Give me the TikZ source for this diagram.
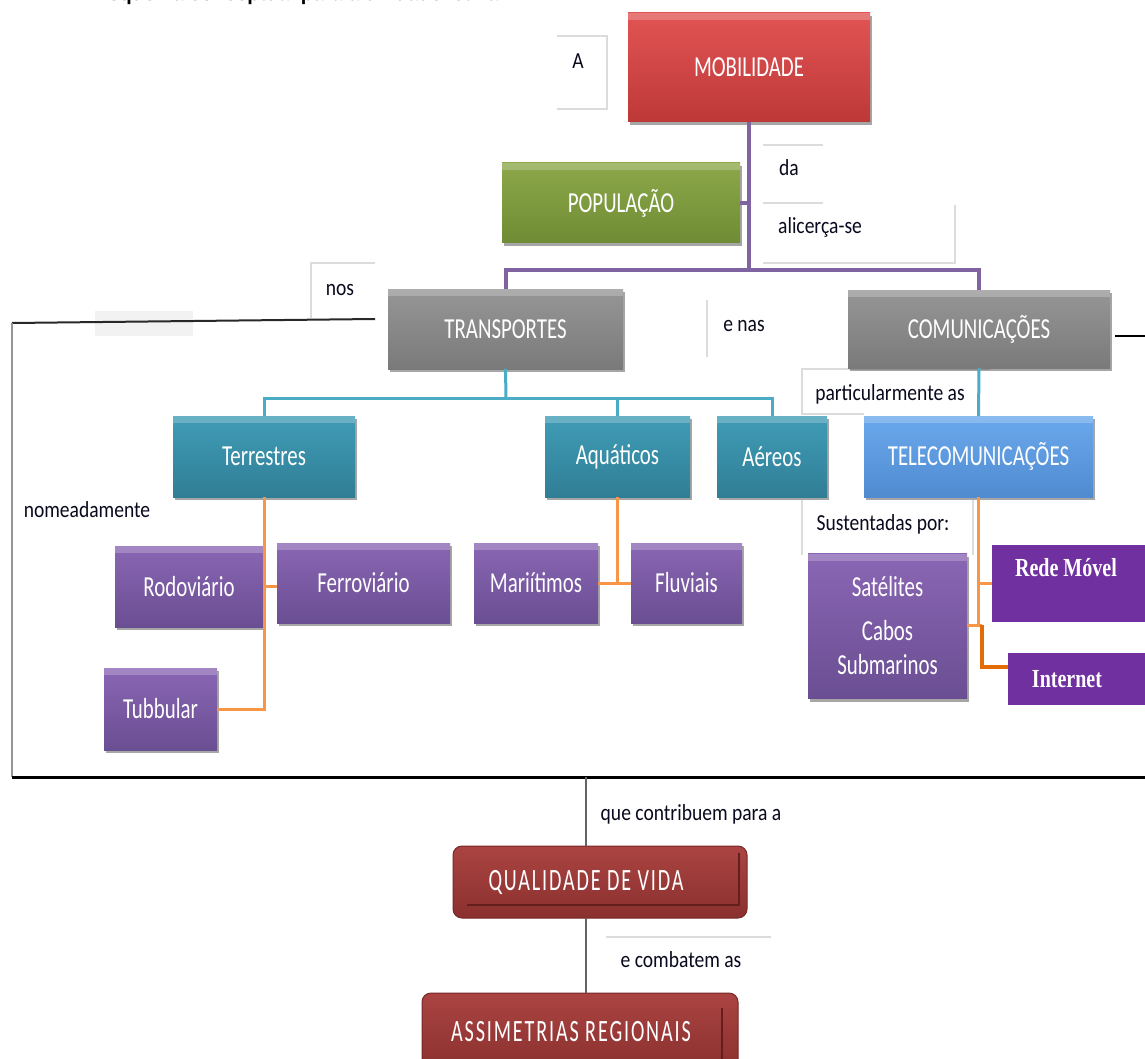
\documentclass[tikz,border=0pt]{standalone}
\usepackage{fontspec}
\setmainfont{Carlito}
\newfontfamily\boxff[FakeStretch=0.72]{Carlito}
\newfontfamily\labff[FakeStretch=0.85]{Carlito}
\newfontfamily\spacedff[FakeStretch=0.65,LetterSpace=6]{Carlito}
\newfontfamily\serbff[FakeStretch=0.77]{Liberation Serif}
\newfontfamily\titff{Liberation Sans}
\newcommand\boxf{\boxff\fontsize{29}{32}\selectfont}
\newcommand\labf{\labff\fontsize{23}{26}\selectfont}
\newcommand\spacedf{\spacedff\fontsize{31}{34}\selectfont}
\newcommand\serbf{\serbff\bfseries\fontsize{26}{30}\selectfont}
\usetikzlibrary{shadows}
\definecolor{cPurpleLine}{HTML}{8064A2}
\definecolor{cTealLine}{HTML}{4BACC6}
\definecolor{cOrangeLine}{HTML}{F79646}
\definecolor{cDarkOrange}{HTML}{E36C09}
\definecolor{cLabLine}{HTML}{DCDCDC}
\definecolor{cRedT}{RGB}{226,84,84}
\definecolor{cRedB}{RGB}{190,56,56}
\definecolor{cGreenT}{RGB}{140,168,74}
\definecolor{cGreenB}{RGB}{112,140,52}
\definecolor{cGrayT}{RGB}{150,150,150}
\definecolor{cGrayB}{RGB}{122,122,122}
\definecolor{cTealT}{RGB}{64,156,182}
\definecolor{cTealB}{RGB}{48,126,150}
\definecolor{cBlueT}{RGB}{106,168,236}
\definecolor{cBlueB}{RGB}{80,139,208}
\definecolor{cPurT}{RGB}{138,102,180}
\definecolor{cPurB}{RGB}{106,78,146}
\definecolor{cDPur}{RGB}{112,48,160}
\definecolor{cDRedT}{RGB}{170,68,66}
\definecolor{cDRedB}{RGB}{138,48,46}
\definecolor{cDRedLine}{RGB}{120,40,40}
\definecolor{cDRedDark}{RGB}{100,30,30}
\definecolor{cLabText}{RGB}{10,10,30}
\definecolor{cFrame}{RGB}{40,40,40}
\definecolor{cFrameGray}{RGB}{150,150,150}
\definecolor{cGl}{RGB}{100,100,100}
\definecolor{cPale}{RGB}{242,242,242}
\begin{document}
\begin{tikzpicture}[x=1pt,y=-1pt,
  bx/.style={rectangle, inner sep=0pt, outer sep=0pt, text=white, font=\boxf, align=center,
    drop shadow={shadow xshift=2pt, shadow yshift=-3pt, fill=black, opacity=0.35},
    path picture={\fill[white,opacity=0.22] (path picture bounding box.north west) rectangle ([yshift=-7pt]path picture bounding box.north east);}},
  redbox/.style={bx, top color=cRedT, bottom color=cRedB},
  greenbox/.style={bx, top color=cGreenT, bottom color=cGreenB},
  graybox/.style={bx, top color=cGrayT, bottom color=cGrayB},
  tealbox/.style={bx, top color=cTealT, bottom color=cTealB},
  bluebox/.style={bx, top color=cBlueT, bottom color=cBlueB},
  purplebox/.style={bx, top color=cPurT, bottom color=cPurB},
  dpurplebox/.style={rectangle, inner sep=0pt, outer sep=0pt, text=white, font=\serbf, fill=cDPur},
  dredbox/.style={rectangle, rounded corners=9pt, inner sep=0pt, outer sep=0pt, text=white, font=\spacedf,
    top color=cDRedT, bottom color=cDRedB, draw=cDRedLine, line width=1pt},
  lab/.style={anchor=base, inner sep=0pt, text=cLabText, font=\labf},
  labline/.style={draw=cLabLine, line width=2pt},
  pl/.style={draw=cPurpleLine, line width=4pt},
  tl/.style={draw=cTealLine, line width=3pt},
  ol/.style={draw=cOrangeLine, line width=3pt},
  dol/.style={draw=cDarkOrange, line width=4pt},
  frame/.style={draw=cFrame, line width=2pt},
  gl/.style={draw=cGl, line width=1.5pt}
]
\useasboundingbox[fill=white] (0,0) rectangle (1145,1059);

% title, cut off at the top edge as in the reference
\node[anchor=base west, inner sep=0pt, font=\titff\bfseries\fontsize{20}{24}\selectfont] (title) at (95,1) {Esquema conceptual para a unidade letiva};

% label boxes (border fragments)
\draw[labline] (557,36) -- (607,36) -- (607,109) -- (557,109);
\draw[labline] (763,145) -- (823,145);
\draw[labline] (763,203) -- (823,203);
\draw[labline] (955,205) -- (955,263) -- (763,263);
\draw[labline] (375,263) -- (311,263) -- (311,318);
\draw[labline] (707,300) -- (707,357);
\draw[labline] (990,369) -- (802,369) -- (802,414) -- (864,414);
\draw[labline] (802,500) -- (802,555);
\draw[labline] (973,500) -- (973,555);
\draw[labline] (606,937) -- (771,937);
\fill[cPale] (95,311) rectangle (193,336);

% nodes
\node[redbox, minimum width=242pt, minimum height=109pt] (mob) at (749,67.5) {MOBILIDADE};
\node[greenbox, minimum width=238pt, minimum height=80pt] (pop) at (621,203) {POPULAÇÃO};
\node[graybox, minimum width=235pt, minimum height=80pt] (trans) at (505.5,329) {TRANSPORTES};
\node[graybox, minimum width=262pt, minimum height=78pt] (com) at (979,329) {COMUNICAÇÕES};
\node[tealbox, minimum width=182pt, minimum height=81pt] (terr) at (264,456.5) {Terrestres};
\node[tealbox, minimum width=145pt, minimum height=81pt] (aqua) at (617.5,456.5) {Aquáticos};
\node[tealbox, minimum width=110pt, minimum height=81pt] (aer) at (772,456.5) {Aéreos};
\node[bluebox, minimum width=229pt, minimum height=81pt] (tele) at (978.5,456.5) {TELECOMUNICAÇÕES};
\node[purplebox, minimum width=148pt, minimum height=81pt] (rod) at (189,586.5) {Rodoviário};
\node[purplebox, minimum width=173pt, minimum height=80pt] (fer) at (363.5,583) {Ferroviário};
\node[purplebox, minimum width=113pt, minimum height=82pt] (tub) at (160.5,709) {Tubbular};
\node[purplebox, minimum width=124pt, minimum height=80pt] (mar) at (536,583) {Mariítimos};
\node[purplebox, minimum width=111pt, minimum height=80pt] (flu) at (686.5,583) {Fluviais};
\node[purplebox, minimum width=159pt, minimum height=145pt] (sat) at (887.5,626) {Satélites\\[12pt]Cabos\\[2pt]Submarinos};
\node[dpurplebox, minimum width=158pt, minimum height=77pt, text height=14pt, text depth=28pt] (rede) at (1071,583.5) {Rede Móvel\kern10pt};
\node[dpurplebox, minimum width=142pt, minimum height=52pt] (inet) at (1079,679) {Internet\kern24pt};
\node[dredbox, minimum width=294pt, minimum height=72pt] (qual) at (600,882) {QUALIDADE DE VIDA\kern28pt};
\node[dredbox, minimum width=316pt, minimum height=78pt] (assim) at (580,1032) {ASSIMETRIAS REGIONAIS\kern18pt};
\draw[draw=cDRedDark, line width=2pt] (467,905) -- (739,905) -- (739,853);
\draw[draw=cDRedDark, line width=2pt] (722,1008) -- (722,1059);

% labels
\node[lab] (la) at (578,69) {A};
\node[lab] (lda) at (789,176) {da};
\node[lab] (lal) at (820,234) {alicerça-se};
\node[lab] (lnos) at (340,295) {nos};
\node[lab] (lenas) at (744,331) {e nas};
\node[lab] (lpart) at (890,400) {particularmente as};
\node[lab] (lnom) at (87,517) {nomeadamente};
\node[lab] (lsus) at (883,530) {Sustentadas por:};
\node[lab] (lque) at (691,820) {que contribuem para a};
\node[lab] (lcomb) at (681,967) {e combatem as};

% purple connectors
\coordinate (j1) at (749,270);
\draw[pl] (mob.south) -- (j1);
\draw[pl] (pop.east) -- (pop.east -| j1);
\draw[pl] (trans.north) |- (j1) -| (com.north);

% teal connectors
\coordinate (j2) at (506,398);
\draw[tl] (trans.south) -- (j2);
\draw[tl] (terr.north) |- (j2) -| (aer.north);
\draw[tl] (aqua.north) -- (aqua.north |- j2);
\draw[tl] (com.south) -- (tele.north);

% orange connectors
\draw[ol] (terr.south) |- (tub.east);
\draw[ol] (rod.east) -- (fer.west |- rod.east);
\draw[ol] (aqua.south) -- (aqua.south |- mar.east);
\draw[ol] (mar.east) -- (flu.west);
\coordinate (j3) at (982,625);
\draw[ol] (tele.south) -- (tele.south |- j3);
\draw[ol] (rede.west) -- (rede.west -| tele.south);
\draw[ol] (sat.east |- j3) -- (j3);
\draw[dol] (j3) |- ([yshift=12pt]inet.west);

% frame lines
\coordinate (bl1) at (375,319);
\coordinate (bl2) at (12,323);
\coordinate (bl3) at (12,777);
\coordinate (br) at (1145,777);
\coordinate (rr) at (1145,336);
\draw[frame] (bl1) -- (bl2);
\draw[draw=cFrameGray, line width=2pt] (bl2) -- (bl3);
\draw[draw=black, line width=3pt] (bl3) -- (br);
\draw[draw=black, line width=1.5pt] (1115,336) -- (rr);

% bottom connectors
\coordinate (bq) at (586,777);
\draw[gl] (bq) -- (bq |- qual.north);
\draw[gl] (qual.south -| bq) -- (assim.north -| bq);
\end{tikzpicture}
\end{document}
